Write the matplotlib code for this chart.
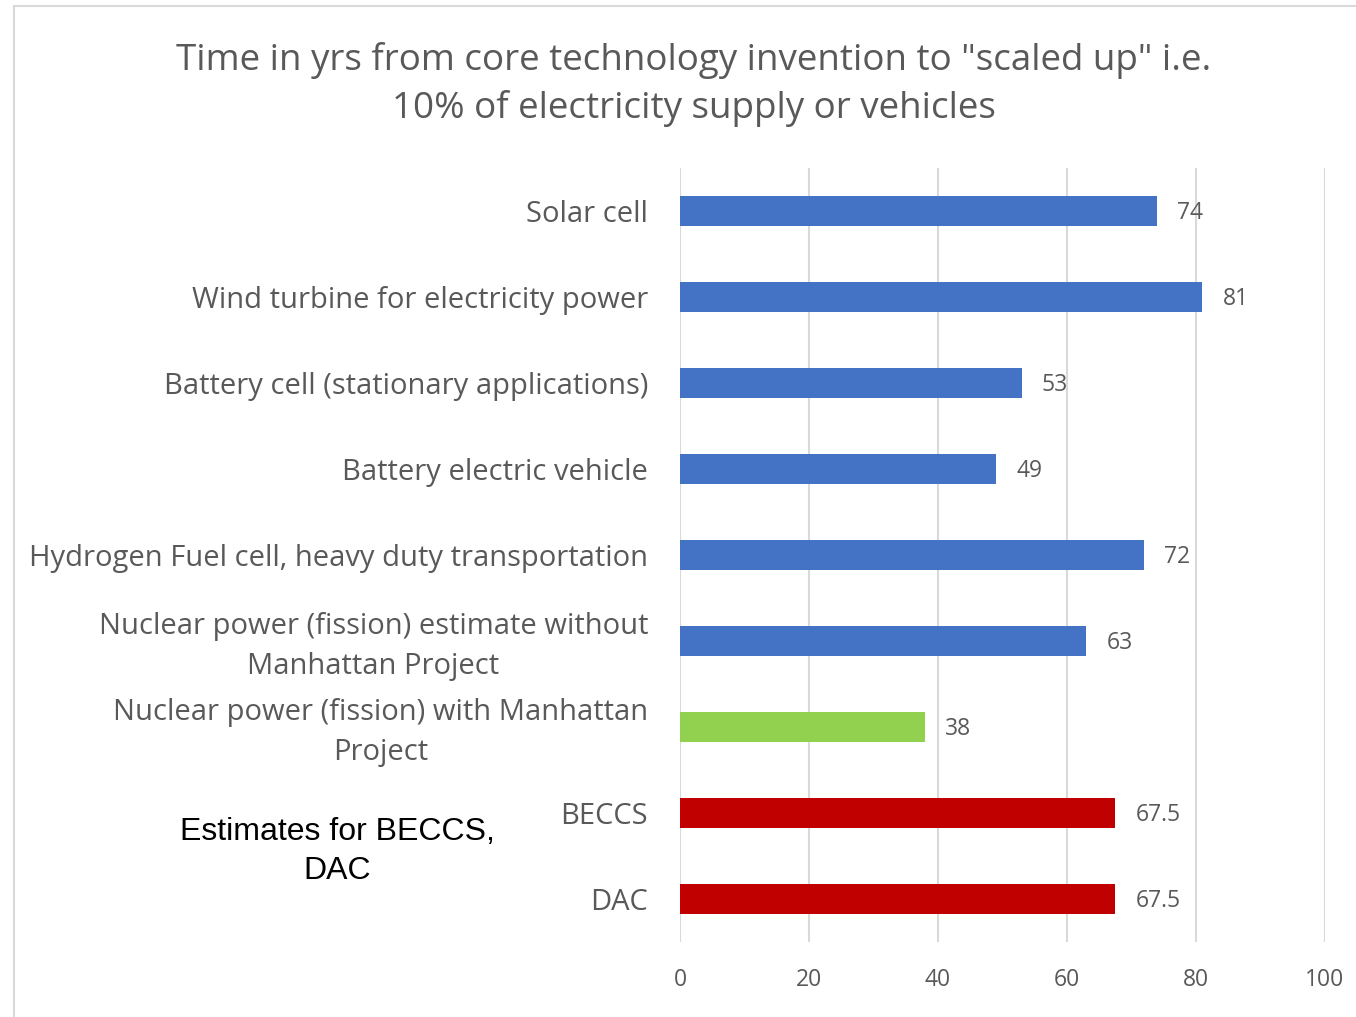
import matplotlib.pyplot as plt
from matplotlib.patches import Rectangle
from matplotlib.transforms import ScaledTranslation

categories = [
    "Solar cell",
    "Wind turbine for electricity power",
    "Battery cell (stationary applications)",
    "Battery electric vehicle",
    "Hydrogen Fuel cell, heavy duty transportation",
    "Nuclear power (fission) estimate without\nManhattan Project",
    "Nuclear power (fission) with Manhattan\nProject",
    "BECCS",
    "DAC",
]
years = [74, 81, 53, 49, 72, 63, 38, 67.5, 67.5]
bar_colors = ["#4472C4"] * 6 + ["#92D050"] + ["#C00000"] * 2
xticks = [0, 20, 40, 60, 80, 100]

grey = "#595959"
plt.rcParams["font.family"] = ["Open Sans", "DejaVu Sans"]

fig = plt.figure(figsize=(13.56, 10.17), dpi=100)
ax = fig.add_axes([0.5015, 0.0737, 0.4756, 0.7611])

pos = list(range(len(categories)))
ax.barh(pos, years, height=0.35, color=bar_colors, zorder=3)
ax.set_ylim(len(categories) - 0.5, -0.5)
ax.set_xlim(0, 100)

for p, v in zip(pos, years):
    ax.text(v + 3.1, p + 0.02, f"{v:g}", va="center", ha="left", fontsize=16.5, color=grey)

ax.set_yticks(pos)
ax.set_yticklabels(categories, fontsize=21, color=grey, multialignment="center",
                   linespacing=1.5)
ax.set_xticks(xticks)
ax.set_xticklabels([str(t) for t in xticks], fontsize=16.5, color=grey)
ax.tick_params(axis="y", length=0, pad=23)
ax.tick_params(axis="x", length=0, pad=19)
ax.xaxis.grid(True, color="#D9D9D9", linewidth=1.5, zorder=0)
for s in ax.spines.values():
    s.set_visible(False)

# two-line labels sit a little high in their row
lift = ScaledTranslation(0, 4 / 100, fig.dpi_scale_trans)
for lab in ax.get_yticklabels():
    if "\n" in lab.get_text():
        lab.set_transform(lab.get_transform() + lift)

fig.text(0.5117, 0.917, 'Time in yrs from core technology invention to "scaled up" i.e.\n'
         '10% of electricity supply or vehicles', ha="center", va="center",
         fontsize=26.5, color=grey, linespacing=1.42)

fig.text(0.249, 0.1625, "Estimates for BECCS,\nDAC", ha="center", va="center",
         fontsize=23, color="black", family="Liberation Sans", linespacing=1.38)

# outer chart frame
fig.patches.append(Rectangle((14 / 1356, -0.1), 1.2, 1.0 - 6 / 1017 + 0.1,
                             transform=fig.transFigure, fill=False,
                             edgecolor="#D9D9D9", linewidth=1.5))

fig.savefig("out.png", dpi=100)
